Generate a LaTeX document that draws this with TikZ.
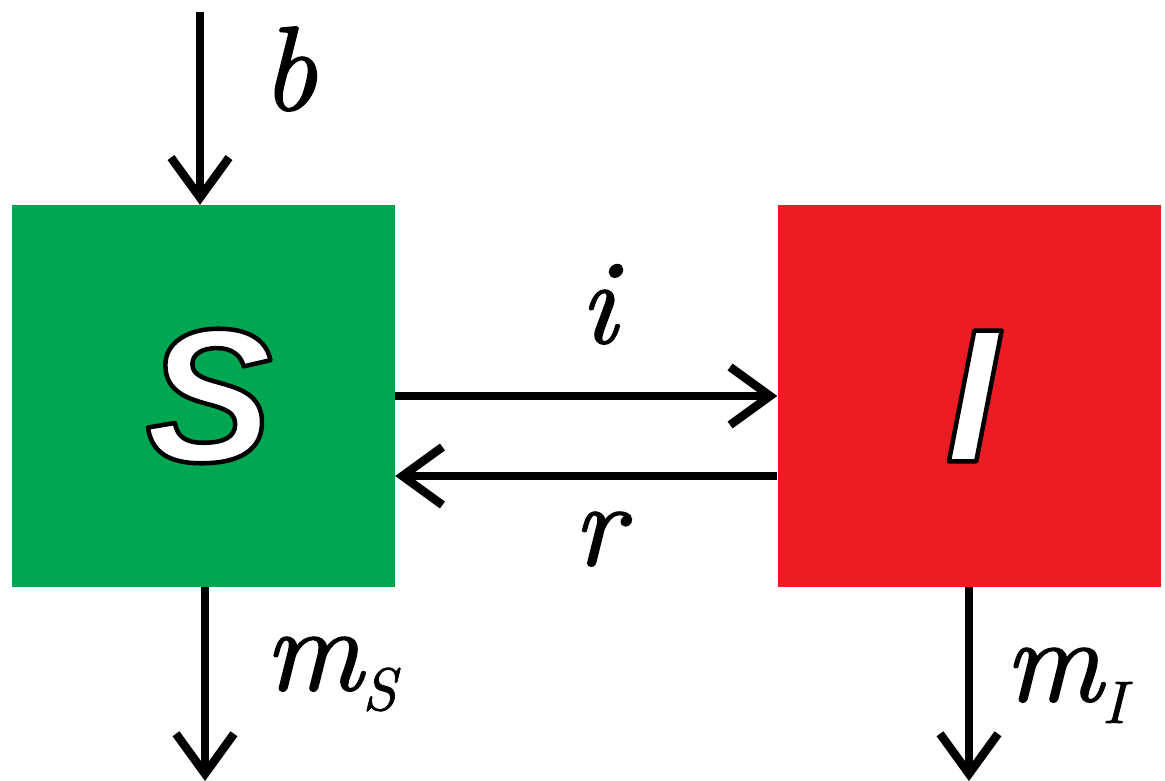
\documentclass[tikz,border=0pt]{standalone}
\usepackage{fontspec}
\newfontfamily\boxfont{Liberation Sans}
\newfontfamily\ratefont{lmroman10-italic.otf}[FakeBold=1.2]
\usetikzlibrary{arrows.meta}
\definecolor{sgreen}{RGB}{0,166,81}
\definecolor{ired}{RGB}{237,28,36}
\newcommand\outlinedtext[1]{\special{pdf:literal direct 0 G 2 Tr 4.5 w 1 j}#1\special{pdf:literal direct 0 Tr}}
\tikzset{
  compartment/.style={minimum width=383pt,minimum height=382pt,inner sep=0pt,draw=none},
  flow/.style={line width=8pt,-{Straight Barb[length=40pt,width=58pt,line width=8.5pt]}},
  rate/.style={font=\ratefont\fontsize{120}{120}\selectfont,inner sep=0pt},
  letter/.style={text=white,font=\boxfont\bfseries\itshape\fontsize{190}{190}\selectfont,inner sep=0pt}
}
\begin{document}
\begin{tikzpicture}[x=1pt,y=-1pt]
\useasboundingbox (0,0) rectangle (1165,781);
\node[compartment,fill=sgreen] (S) at (203.5,396) {};
\node[compartment,fill=ired] (I) at (969,396) {};
\node[letter] (Sl) at (209,396) {\outlinedtext{S}};
\node[letter] (Il) at (972,396) {\outlinedtext{I}};
\coordinate (btop) at (200,12);
\coordinate (msbot) at (205,781);
\coordinate (mibot) at (969,781);
\draw[flow] (btop) -- ([xshift=-3.5pt]S.north);
\draw[flow] (S.east) -- (I.west);
\draw[flow] ([yshift=-80pt]I.west) -- ([yshift=-80pt]S.east);
\draw[flow] ([xshift=1.5pt]S.south) -- (msbot);
\draw[flow] (I.south) -- (mibot);
\node[rate,anchor=base] (lb) at (289,110) {b};
\node[rate,anchor=base] (li) at (598,343) {i};
\node[rate,anchor=base] (lr) at (598,565) {r};
\node[rate,anchor=base west] (lms) at (264,690) {m\raisebox{-20pt}{\fontsize{60}{60}\selectfont S}};
\node[rate,anchor=base west] (lmi) at (1004,701) {m\raisebox{-22pt}{\fontsize{60}{60}\selectfont I}};
\end{tikzpicture}
\end{document}
